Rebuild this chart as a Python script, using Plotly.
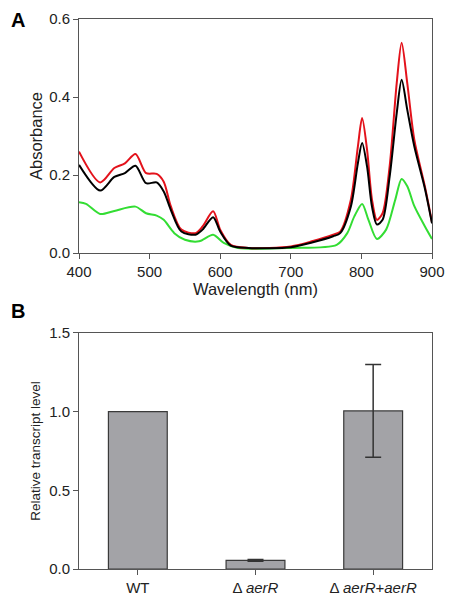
import plotly.graph_objects as go

# ---- Panel A data: absorption spectra ----
wl_red = [400, 430, 450, 465, 480, 495, 510, 520, 530, 545, 565, 575, 590, 600, 615, 640, 700, 730, 760, 770, 785, 795, 801, 808, 815, 822, 830, 840, 850, 857, 865, 875, 890, 900]
abs_red = [0.260, 0.181, 0.218, 0.230, 0.254, 0.205, 0.203, 0.183, 0.120, 0.060, 0.051, 0.068, 0.107, 0.060, 0.021, 0.013, 0.017, 0.030, 0.047, 0.055, 0.136, 0.273, 0.346, 0.265, 0.137, 0.085, 0.102, 0.222, 0.435, 0.539, 0.435, 0.290, 0.170, 0.079]

wl_black = wl_red
abs_black = [0.226, 0.160, 0.195, 0.205, 0.224, 0.179, 0.181, 0.158, 0.111, 0.055, 0.047, 0.060, 0.092, 0.055, 0.019, 0.013, 0.015, 0.027, 0.043, 0.051, 0.119, 0.230, 0.282, 0.222, 0.119, 0.073, 0.085, 0.196, 0.358, 0.444, 0.367, 0.273, 0.165, 0.076]

wl_green = [400, 410, 430, 450, 480, 495, 510, 520, 535, 550, 570, 590, 605, 625, 700, 765, 780, 790, 801, 810, 822, 835, 848, 857, 865, 875, 890, 900]
abs_green = [0.130, 0.126, 0.100, 0.108, 0.119, 0.102, 0.096, 0.085, 0.051, 0.034, 0.030, 0.047, 0.026, 0.013, 0.013, 0.021, 0.051, 0.094, 0.126, 0.085, 0.036, 0.060, 0.137, 0.190, 0.171, 0.120, 0.068, 0.036]

# ---- Panel B data: relative transcript level ----
strains = ["WT", "Δ <i>aerR</i>", "Δ <i>aerR</i>+<i>aerR</i>"]
levels = [1.0, 0.055, 1.005]
# error bars only for the mutant and complemented strains
err_strains = ["Δ <i>aerR</i>", "Δ <i>aerR</i>+<i>aerR</i>"]
err_levels = [0.055, 1.005]
err_sd = [0.005, 0.295]

fig = go.Figure()

line_specs = [
    (wl_green, abs_green, "#33dd33"),
    (wl_red, abs_red, "#e3121b"),
    (wl_black, abs_black, "#000000"),
]
for x, y, c in line_specs:
    fig.add_trace(go.Scatter(x=x, y=y, mode="lines", line=dict(color=c, width=2, shape="spline", smoothing=0.8),
                             xaxis="x", yaxis="y", showlegend=False, hoverinfo="skip"))

fig.add_trace(go.Bar(x=strains, y=levels,
                     marker=dict(color="#a3a3a7", line=dict(color="#3a3a3a", width=1.2)),
                     width=0.5, xaxis="x2", yaxis="y2", showlegend=False))
fig.add_trace(go.Scatter(x=err_strains, y=err_levels, mode="markers", marker=dict(size=0.1, color="rgba(0,0,0,0)"),
                         error_y=dict(type="data", array=err_sd, visible=True, color="#333333", thickness=1.5, width=8),
                         xaxis="x2", yaxis="y2", showlegend=False, hoverinfo="skip"))

font_family = "Liberation Sans, Arial, sans-serif"
axcol = "#555555"

common = dict(showline=True, linecolor=axcol, linewidth=1, mirror=True, ticks="outside",
              ticklen=5, tickcolor=axcol, showgrid=False, zeroline=False, automargin=False,
              tickfont=dict(family=font_family, size=15, color="#222222"))

# The page body has an 8px margin, so the figure is shrunk and shifted by 8px.
OFF = 8
W, H = 453 - OFF, 599 - OFF
ML, MT = 79 - OFF, 19 - OFF
MR, MB = 21, 30

fig.update_layout(
    width=W, height=H,
    margin=dict(l=ML, r=MR, t=MT, b=MB),
    paper_bgcolor="white", plot_bgcolor="white",
    font=dict(family=font_family, color="#222222"),
    xaxis=dict(domain=[0, 1], range=[400, 900], tickvals=[400, 500, 600, 700, 800, 900], anchor="y",
               title=dict(text="Wavelength (nm)", font=dict(size=16.5), standoff=3), **common),
    yaxis=dict(domain=[0.5745, 1.0], range=[0, 0.6], tickvals=[0, 0.2, 0.4, 0.6], tickformat=".1f", anchor="x",
               title=dict(text="Absorbance", font=dict(size=16.5), standoff=2), **common),
    xaxis2=dict(domain=[0, 1], range=[-0.5, 2.5], anchor="y2", **common),
    yaxis2=dict(domain=[0, 0.4291], range=[0, 1.5], tickvals=[0, 0.5, 1.0, 1.5], tickformat=".1f", anchor="x2",
                title=dict(text="Relative transcript level", font=dict(size=13.5), standoff=5), **common),
)

# panel labels (page pixel positions converted to paper coords)
plot_w = W - ML - MR
plot_h = H - MT - MB
anns = []
for label, px, py in [("A", 9, 7), ("B", 9, 298)]:
    fx, fy = px - OFF, py - OFF
    anns.append(dict(text=f"<b>{label}</b>", x=(fx - ML) / plot_w, y=(H - MB - fy) / plot_h,
                     xref="paper", yref="paper", xanchor="left", yanchor="top", showarrow=False,
                     font=dict(family=font_family, size=20, color="#000000")))
fig.update_layout(annotations=anns)

fig.write_html("out.html")
